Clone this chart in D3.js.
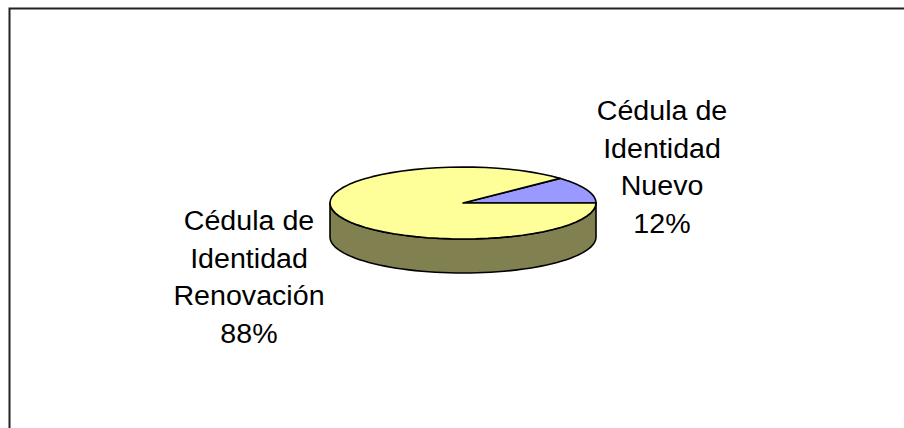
<!DOCTYPE html>
<html>
<head>
<meta charset="utf-8">
<script src="https://cdn.jsdelivr.net/npm/d3@7"></script>
<style>
  html, body { margin: 0; padding: 0; background: #fff; }
  svg { display: block; }
</style>
</head>
<body>
<svg id="chart" width="904" height="428"></svg>
<script>
// data
var categories = ["Cédula de Identidad Nuevo", "Cédula de Identidad Renovación"];
var labelLines = [["Cédula de", "Identidad", "Nuevo"], ["Cédula de", "Identidad", "Renovación"]];
var values = [12, 88];
var colors = ["#9999ff", "#ffff99"];
var sideColors = ["#4c4c80", "#808050"];

var svg = d3.select("#chart");

// chart frame (runs off the right / bottom edge)
svg.append("rect")
    .attr("x", 9.5).attr("y", 8.5)
    .attr("width", 920).attr("height", 440)
    .attr("fill", "none")
    .attr("stroke", "#222")
    .attr("stroke-width", 2);

var cx = 463, cy = 203, rx = 133, ry = 36, depth = 34;
var total = d3.sum(values);

var start = Math.PI / 2 - 2 * Math.PI * values[0] / total;
var pie = d3.pie()
    .sort(null)
    .startAngle(start)
    .endAngle(start + 2 * Math.PI);

var arcs = pie(values).map((a, i) => Object.assign(a, { i: i }));

// d3 angle: 0 = 12 o'clock, clockwise
function px(a) { return cx + rx * Math.sin(a); }
function py(a, dy) { return cy - ry * Math.cos(a) + (dy || 0); }

function ellArc(a0, a1, dy) {
    var n = 60, pts = [];
    for (var k = 0; k <= n; k++) {
        var a = a0 + (a1 - a0) * k / n;
        pts.push([px(a), py(a, dy)]);
    }
    return pts;
}

var line = d3.line();

// side walls: only the front half (pi/2 .. 3pi/2) shows
var sides = svg.append("g");
arcs.forEach(function (d) {
    [0, 2 * Math.PI].forEach(function (off) {
        var a0 = Math.max(d.startAngle, Math.PI / 2 + off);
        var a1 = Math.min(d.endAngle, 3 * Math.PI / 2 + off);
        if (a1 <= a0) return;
        var top = ellArc(a0, a1, 0);
        var bot = ellArc(a1, a0, depth);
        sides.append("path")
            .attr("d", line(top.concat(bot)) + "Z")
            .attr("fill", sideColors[d.i])
            .attr("stroke", "#000")
            .attr("stroke-width", 1.6)
            .attr("stroke-linejoin", "round");
    });
});

// top faces
svg.append("g").selectAll("path")
    .data(arcs)
    .join("path")
    .attr("d", d => line([[cx, cy]].concat(ellArc(d.startAngle, d.endAngle, 0))) + "Z")
    .attr("fill", d => colors[d.i])
    .attr("stroke", "#000")
    .attr("stroke-width", 1.6)
    .attr("stroke-linejoin", "round");

// labels
var labelPos = [[662, 120], [249, 230]];
var lineH = 37.7;
var fmt = d => Math.round(d.value / total * 100) + "%";

arcs.forEach(function (d) {
    var t = svg.append("text")
        .attr("font-family", "'Liberation Sans', Arial, sans-serif")
        .attr("font-size", 27)
        .attr("fill", "#000")
        .attr("text-anchor", "middle")
        .attr("transform", "translate(" + labelPos[d.i][0] + "," + labelPos[d.i][1] + ") scale(1.06,1)");
    labelLines[d.i].concat([fmt(d)]).forEach(function (s, k) {
        t.append("tspan").attr("x", 0).attr("y", k * lineH).text(s);
    });
});
</script>
</body>
</html>
